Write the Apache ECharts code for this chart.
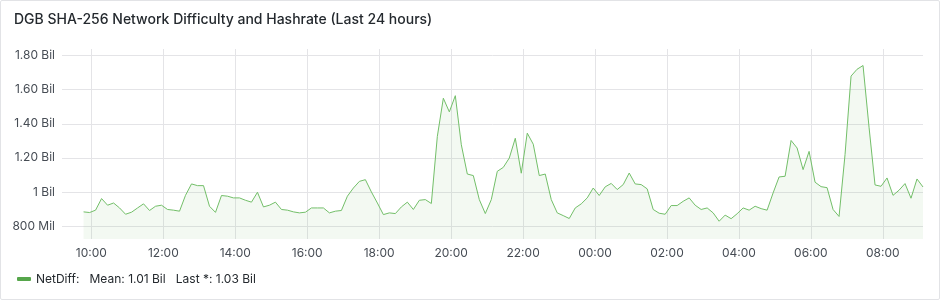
<!DOCTYPE html>
<html><head><meta charset="utf-8">
<script src="https://cdn.jsdelivr.net/npm/echarts@6/dist/echarts.min.js"></script>
<style>
html,body{margin:0;padding:0;background:#fff;}
#c{width:940px;height:300px;position:absolute;left:0;top:0;}
#b{position:absolute;left:0;top:0;width:940px;height:300px;box-sizing:border-box;border:1px solid #e2e3e6;border-radius:2px;pointer-events:none;}
</style></head>
<body><div id="c"></div><div id="b"></div>
<script>
// Series: NetDiff, billions, one sample every 10 minutes starting 09:47
const startTime = [2024, 0, 1, 9, 47];
const stepMinutes = 10;
const netDiff = [
0.883,0.879,0.893,0.961,0.922,0.935,0.906,0.869,0.881,0.906,
0.930,0.891,0.916,0.922,0.897,0.893,0.887,0.980,1.047,1.037,
1.037,0.916,0.880,0.979,0.975,0.965,0.965,0.951,0.940,0.998,
0.912,0.922,0.940,0.897,0.893,0.883,0.877,0.881,0.906,0.906,
0.906,0.877,0.887,0.891,0.975,1.023,1.062,1.072,1.000,0.935,
0.867,0.877,0.873,0.912,0.940,0.897,0.951,0.955,0.932,1.326,
1.550,1.470,1.565,1.277,1.105,1.096,0.955,0.873,0.955,1.121,
1.144,1.199,1.315,1.110,1.345,1.280,1.096,1.105,0.955,0.877,
0.861,0.844,0.906,0.930,0.965,1.023,0.979,1.030,1.050,1.014,
1.043,1.111,1.047,1.043,1.018,0.897,0.875,0.869,0.920,0.920,
0.945,0.965,0.922,0.897,0.906,0.877,0.828,0.864,0.843,0.872,
0.906,0.893,0.916,0.902,0.893,0.994,1.088,1.092,1.302,1.258,
1.131,1.238,1.057,1.031,1.025,0.897,0.856,1.220,1.680,1.720,
1.742,1.380,1.041,1.033,1.082,0.980,1.010,1.049,0.963,1.076,
1.029
];
const yTicks = [0.8, 1.0, 1.2, 1.4, 1.6, 1.8];
// x tick labels: [day offset, hour]
const xTickDayHour = [[0,10],[0,12],[0,14],[0,16],[0,18],[0,20],[0,22],[1,0],[1,2],[1,4],[1,6],[1,8]];
const axisStart = [2024, 0, 1, 9, 11];
const axisEnd = [2024, 0, 2, 9, 7];

const t0 = new Date(...startTime).getTime();
const data = netDiff.map((v, i) => [t0 + i * stepMinutes * 60000, v]);
const xTicks = xTickDayHour.map(([d, h]) => new Date(2024, 0, 1 + d, h, 0).getTime());
const mean = netDiff.reduce((a, b) => a + b, 0) / netDiff.length;
const last = netDiff[netDiff.length - 1];
function fmtBil(v) {
  if (v < 0.9995) return Math.round(v * 1000) + ' Mil';
  if (Math.abs(v - 1) < 1e-6) return '1 Bil';
  return v.toFixed(2) + ' Bil';
}
function pad(n){return (n<10?'0':'')+n;}
const font = 'Inter, "Noto Sans", sans-serif';
const chart = echarts.init(document.getElementById('c'), null, {renderer:'canvas'});
chart.setOption({
  animation: false,
  backgroundColor: '#ffffff',
  textStyle: {fontFamily: font},
  title: {
    text: 'DGB SHA-256 Network Difficulty and Hashrate (Last 24 hours)',
    left: 9, top: 8,
    textStyle: {fontFamily: font, fontSize: 14, fontWeight: 500, color: '#24292e'}
  },
  legend: {
    left: 12, top: 268,
    icon: 'roundRect', itemWidth: 14, itemHeight: 4, itemGap: 8,
    textStyle: {fontFamily: font, fontSize: 12, color: '#24292e'},
    formatter: function(name){
      return name + ':   Mean: ' + fmtBil(mean) + '   Last *: ' + fmtBil(last);
    },
    data: [{name:'NetDiff', itemStyle:{color:'#56a64b'}}]
  },
  grid: {left: 62, right: 17, top: 49, bottom: 61, containLabel: false},
  xAxis: {
    type: 'value',
    min: new Date(...axisStart).getTime(),
    max: new Date(...axisEnd).getTime(),
    axisLine: {show: false},
    axisTick: {show: false, customValues: xTicks},
    splitLine: {show: true, lineStyle: {color: '#e4e4e7', width: 1}},
    axisLabel: {
      fontFamily: font, fontSize: 12, color: '#464c54', margin: 8,
      customValues: xTicks,
      formatter: function(v){ const d = new Date(v); return pad(d.getHours()) + ':' + pad(d.getMinutes()); }
    }
  },
  yAxis: {
    type: 'value',
    min: 0.7237, max: 1.839,
    axisLine: {show: false},
    axisTick: {show: false, customValues: yTicks},
    splitLine: {show: true, lineStyle: {color: '#e4e4e7', width: 1}},
    axisLabel: {
      fontFamily: font, fontSize: 12, color: '#464c54', margin: 7,
      customValues: yTicks,
      formatter: function(v){ return fmtBil(v); }
    }
  },
  series: [{
    name: 'NetDiff', type: 'line', data: data,
    showSymbol: false, symbol: 'none',
    lineStyle: {color: '#73bf69', width: 1},
    itemStyle: {color: '#73bf69'},
    areaStyle: {color: 'rgba(115,191,105,0.12)'}
  }]
});
</script></body></html>
